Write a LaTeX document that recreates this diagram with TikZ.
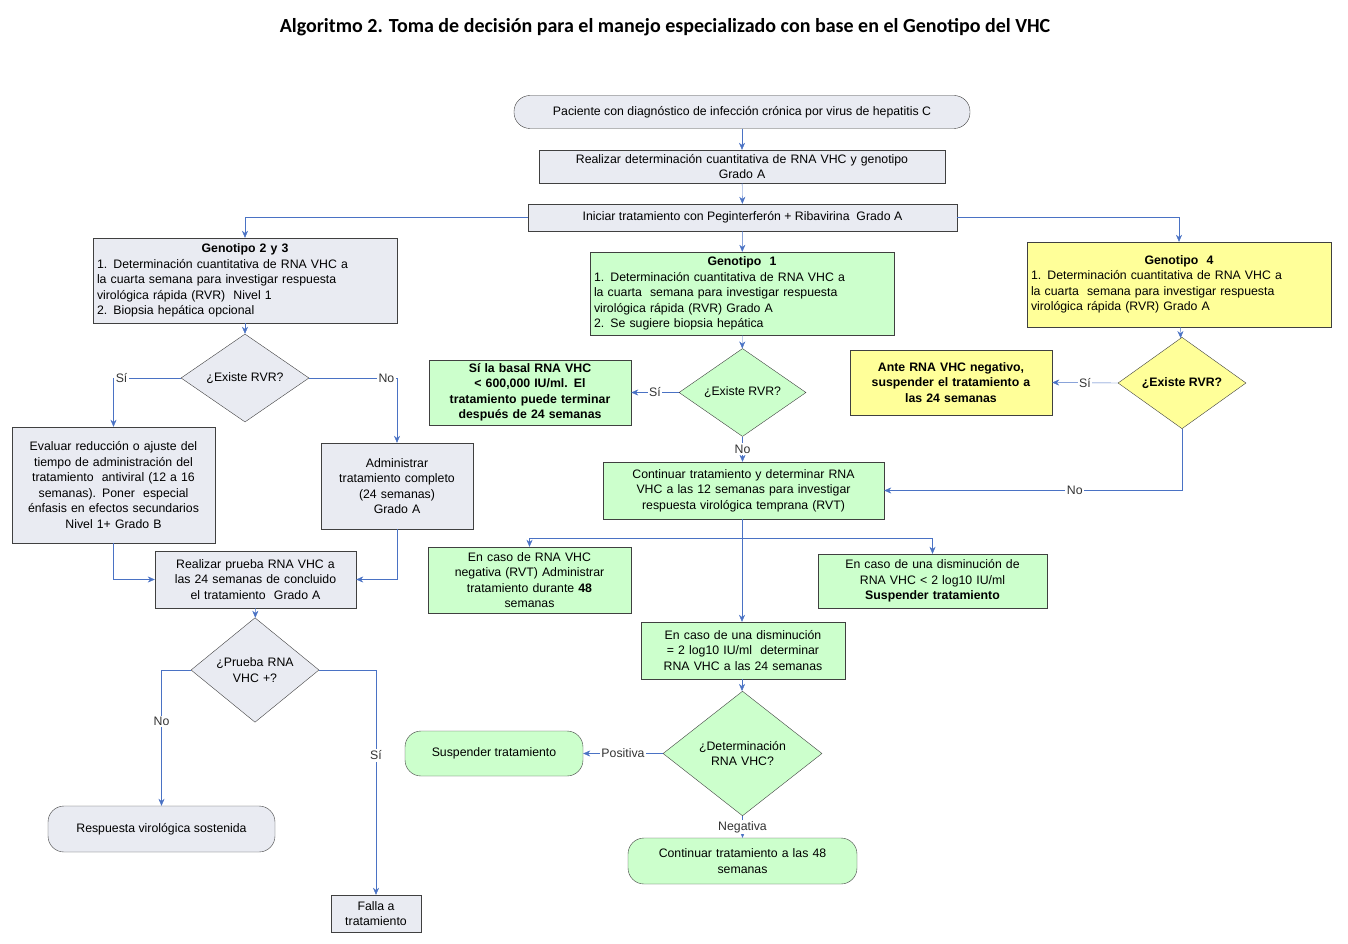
\documentclass[tikz,border=0pt]{standalone}
\usepackage{fontspec}
\setmainfont{Liberation Sans}
\newfontfamily\titlefont{Carlito}
\usetikzlibrary{shapes.geometric,arrows.meta}

\definecolor{boxgray}{HTML}{E9EBF2}
\definecolor{boxgreen}{HTML}{CCFFCC}
\definecolor{boxyellow}{HTML}{FFFF99}
\definecolor{linkblue}{HTML}{4A72C4}

\tikzset{
  box/.style={draw=black!75, fill=boxgray, inner sep=3pt, align=center,
    font=\fontsize{12.3}{15.5}\selectfont},
  green/.style={box, fill=boxgreen},
  yellow/.style={box, fill=boxyellow},
  round/.style={rounded corners=16pt},
  dia/.style={diamond, draw=black!75, inner sep=0pt, align=center,
    font=\fontsize{12.3}{15.5}\selectfont},
  arr/.style={draw=linkblue, -{Stealth[length=7pt,width=6pt]}},
  lbl/.style={fill=white, inner sep=1.5pt, text=black!80,
    font=\fontsize{12.3}{14}\selectfont},
}

\begin{document}
\begin{tikzpicture}[x=1pt,y=-1pt]
\useasboundingbox (0,0) rectangle (1348,944);
\node at (665,27) {\titlefont\fontsize{20}{24}\selectfont\bfseries Algoritmo 2. Toma de decisión para el manejo especializado con base en el Genotipo del VHC};

% central column
\node[box, round, minimum width=456, minimum height=33] (start) at (742,112) {Paciente con diagnóstico de infección crónica por virus de hepatitis C};
\node[box, minimum width=406, minimum height=33, text width=398] (quant) at (742,166.5) {Realizar determinación cuantitativa de RNA VHC y genotipo\\ Grado A};
\node[box, minimum width=429, minimum height=27] (init) at (742.5,217.5) {Iniciar tratamiento con Peginterferón + Ribavirina\ \ Grado A};

% genotype boxes
\node[box, minimum width=304, minimum height=85, text width=296, align=left] (gtwo) at (245,280.5)
  {\makebox[296pt]{\bfseries Genotipo 2 y 3}\\ 1. Determinación cuantitativa de RNA VHC a\\ la cuarta semana para investigar respuesta\\ virológica rápida (RVR)\ \ Nivel 1\\ 2. Biopsia hepática opcional};
\node[green, minimum width=304, minimum height=83, text width=296, align=left] (gone) at (742,293.5)
  {\makebox[296pt]{\bfseries Genotipo\ \ 1}\\ 1. Determinación cuantitativa de RNA VHC a\\ la cuarta\ \ semana para investigar respuesta\\ virológica rápida (RVR) Grado A\\ 2. Se sugiere biopsia hepática};
\node[yellow, minimum width=304, minimum height=85, text width=296, align=left] (gfour) at (1179,284.5)
  {\makebox[296pt]{\bfseries Genotipo\ \ 4}\\ 1. Determinación cuantitativa de RNA VHC a\\ la cuarta\ \ semana para investigar respuesta\\ virológica rápida (RVR) Grado A\\[14pt]};

% genotype 2 and 3
\node[dia, fill=boxgray, minimum width=128, minimum height=70] (dA) at (245,378) {¿Existe RVR?};
\node[box, minimum width=203, minimum height=116, text width=195] (eval) at (113.5,485)
  {Evaluar reducción o ajuste del tiempo de administración del tratamiento\ \ antiviral (12 a 16 semanas). Poner\ \ especial énfasis en efectos secundarios\\ Nivel 1+ Grado B};
\node[box, minimum width=152, minimum height=86, text width=144] (admin) at (397,486)
  {Administrar\\ tratamiento completo\\ (24 semanas)\\ Grado A};
\node[box, minimum width=201, minimum height=57, text width=193] (test) at (255.5,579.5)
  {Realizar prueba RNA VHC a\\ las 24 semanas de concluido\\ el tratamiento\ \ Grado A};
\node[dia, fill=boxgray, minimum width=128, minimum height=70, text width=80] (dB) at (255,670) {¿Prueba RNA\\ VHC +?};
\node[box, round, minimum width=227, minimum height=46] (resp) at (161.5,829) {Respuesta virológica sostenida};
\node[box, minimum width=90, minimum height=37, inner sep=1pt] (fail) at (376,913.5) {Falla a\\ tratamiento};

% genotype 1
\node[dia, fill=boxgreen, minimum width=127, minimum height=65] (dC) at (742.5,392.5) {¿Existe RVR?};
\node[green, minimum width=202, minimum height=65, text width=196, font=\fontsize{12.3}{15.5}\selectfont\bfseries] (basal) at (530,392.5)
  {Sí la basal RNA VHC\\ < 600,000 IU/ml. El\\ tratamiento puede terminar\\ después de 24 semanas};
\node[green, minimum width=281, minimum height=57, text width=273] (cont) at (743.5,490.5)
  {Continuar tratamiento y determinar RNA\\ VHC a las 12 semanas para investigar\\ respuesta virológica temprana (RVT)};
\coordinate (br) at (742,538);
\node[green, minimum width=203, minimum height=66, text width=197, inner sep=1pt] (neg) at (529.5,580)
  {En caso de RNA VHC\\ negativa (RVT) Administrar\\ tratamiento durante \textbf{48}\\ semanas};
\node[green, minimum width=229, minimum height=54, text width=221] (less) at (932.5,581)
  {En caso de una disminución de\\ RNA VHC < 2 log10 IU/ml\\ \textbf{Suspender tratamiento}};
\node[green, minimum width=204, minimum height=57, text width=198] (equal) at (743,650.5)
  {En caso de una disminución\\ = 2 log10 IU/ml\ \ determinar\\ RNA VHC a las 24 semanas};
\node[dia, fill=boxgreen, minimum width=159, minimum height=85, text width=100] (dE) at (742.5,753.5) {¿Determinación\\ RNA VHC?};
\node[green, round, minimum width=178, minimum height=45] (susp) at (494,753.5) {Suspender tratamiento};
\node[green, round, minimum width=229, minimum height=46, text width=215] (cont48) at (742.5,861) {Continuar tratamiento a las 48\\ semanas};

% genotype 4
\node[dia, fill=boxyellow, minimum width=128, minimum height=66, font=\fontsize{12.3}{15.5}\selectfont\bfseries] (dD) at (1182,383) {¿Existe RVR?};
\node[yellow, minimum width=202, minimum height=65, text width=196, font=\fontsize{12.3}{15.5}\selectfont\bfseries] (stop4) at (951,382.5)
  {Ante RNA VHC negativo,\\ suspender el tratamiento a\\ las 24 semanas};

% connectors
\draw[arr] (start) -- (quant);
\draw[arr] (quant) -- (init);
\draw[arr] (init) -- (gone);
\draw[arr] (init.west) -| (gtwo.north);
\draw[arr] (init.east) -| (gfour.north);
\draw[arr] (gtwo) -- (dA);
\draw[arr] (dA.west) -| node[lbl, pos=0.44] {Sí} (eval.north);
\draw[arr] (dA.east) -| node[lbl, pos=0.44] {No} (admin.north);
\draw[arr] (eval.south) |- (test.west);
\draw[arr] (admin.south) |- (test.east);
\draw[arr] (test) -- (dB);
\draw[arr] (dB.west) -| node[lbl, pos=0.69] {No} (resp.north);
\draw[arr] (dB.east) -| node[lbl, pos=0.69] {Sí} (fail.north);
\draw[arr] (gone) -- (dC);
\draw[arr] (dC.west) -- node[lbl] {Sí} (basal.east);
\draw[arr] (dC.south) -- node[lbl] {No} (cont.north -| dC.south);
\draw[arr] (gfour) -- (dD);
\draw[arr] (dD.west) -- node[lbl] {Sí} (stop4.east);
\draw[arr] (dD.south) |- node[lbl, pos=0.68] {No} (cont.east);
\draw[arr] (cont.south -| br) -- (equal.north -| br);
\draw[arr] (br) -| (neg.north);
\draw[arr] (br) -| (less.north);
\draw[arr] (equal.south -| br) -- (dE.north -| br);
\draw[arr] (dE.west) -- node[lbl] {Positiva} (susp.east);
\draw[arr] (dE.south) -- node[lbl] {Negativa} (cont48.north);
\end{tikzpicture}
\end{document}
